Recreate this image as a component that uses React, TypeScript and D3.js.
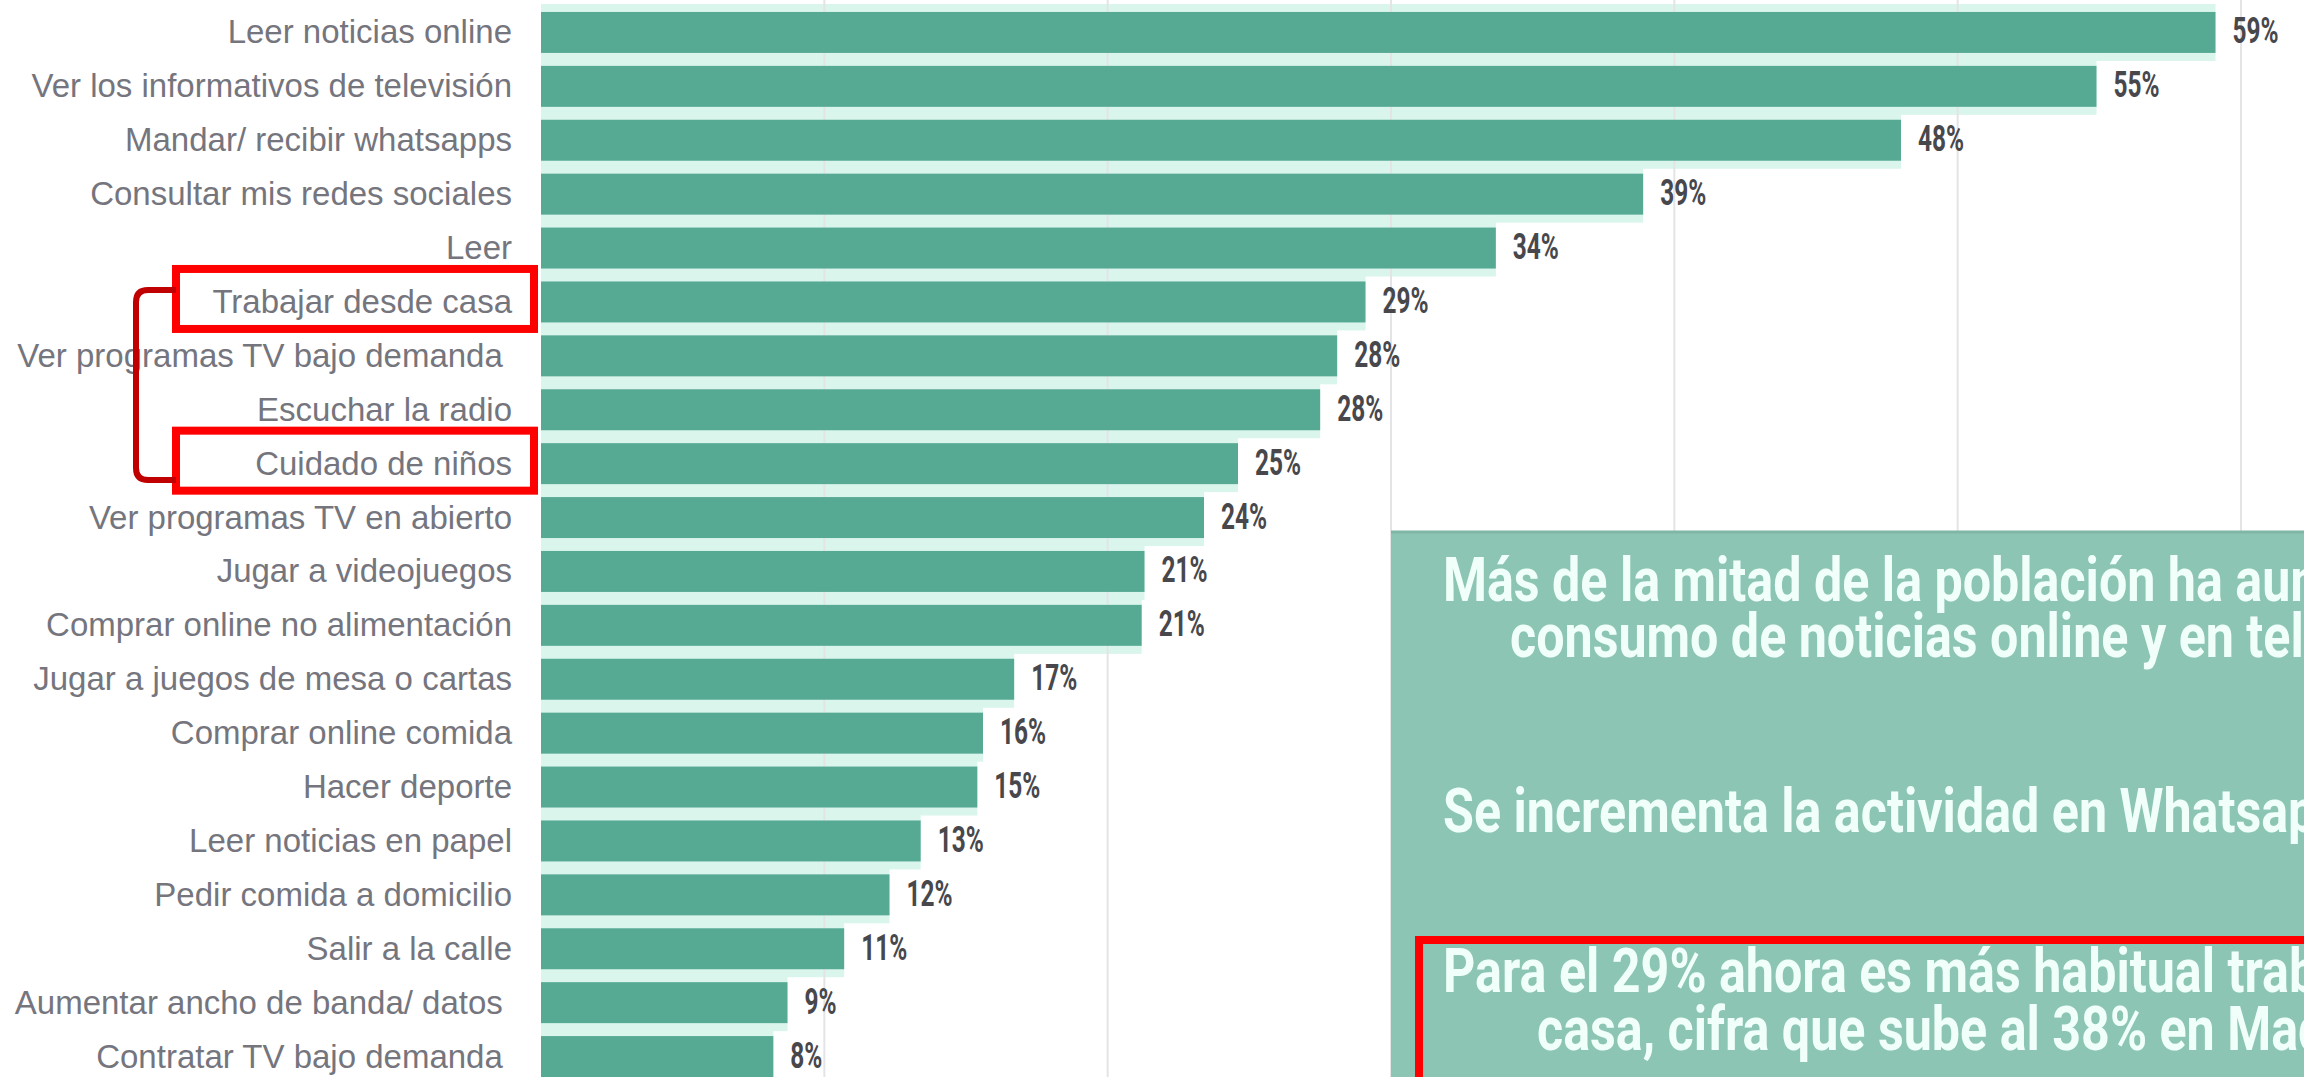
import React from 'react';
import * as d3 from 'd3';

// actividades (orden del gráfico)
const categories = [
  'Leer noticias online',
  'Ver los informativos de televisión',
  'Mandar/ recibir whatsapps',
  'Consultar mis redes sociales',
  'Leer',
  'Trabajar desde casa',
  'Ver programas TV bajo demanda ',
  'Escuchar la radio',
  'Cuidado de niños',
  'Ver programas TV en abierto',
  'Jugar a videojuegos',
  'Comprar online no alimentación',
  'Jugar a juegos de mesa o cartas',
  'Comprar online comida',
  'Hacer deporte',
  'Leer noticias en papel',
  'Pedir comida a domicilio',
  'Salir a la calle',
  'Aumentar ancho de banda/ datos ',
  'Contratar TV bajo demanda ',
];

// longitud de las barras y etiqueta impresa
const values = [59.1, 54.9, 48.0, 38.9, 33.7, 29.1, 28.1, 27.5, 24.6, 23.4, 21.3, 21.2, 16.7, 15.6, 15.4, 13.4, 12.3, 10.7, 8.7, 8.2];
const valueLabels = ['59%', '55%', '48%', '39%', '34%', '29%', '28%', '28%', '25%', '24%', '21%', '21%', '17%', '16%', '15%', '13%', '12%', '11%', '9%', '8%'];

const gridTicks = [10, 20, 30, 40, 50, 60];
const highlighted = ['Trabajar desde casa', 'Cuidado de niños'];

const noteLines = [
  'Más de la mitad de la población ha aumentado su',
  'consumo de noticias online y en televisión',
  'Se incrementa la actividad en Whatsapp y redes sociales',
  'Para el 29% ahora es más habitual trabajar desde',
  'casa, cifra que sube al 38% en Madrid',
];

const W = 2304;
const H = 1077;

export default function App() {
  const x = d3.scaleLinear().domain([0, 60]).range([541, 2241]);
  const y = d3
    .scaleBand<string>()
    .domain(categories)
    .range([5.5, 5.5 + 20 * 53.9])
    .paddingInner(0.24)
    .paddingOuter(0.12);
  const bw = y.bandwidth();

  const boxY = (name: string) => y(name) as number;

  return (
    <div style={{ position: 'absolute', left: 0, top: 0 }}>
      <svg width={W} height={H} style={{ display: 'block', background: '#fff' }}>
        {/* halo claro alrededor de las barras */}
        {values.map((v, i) => (
          <rect
            key={'h' + i}
            x={x(0)}
            y={(y(categories[i]) as number) - 8}
            width={x(v) - x(0)}
            height={bw + 16}
            fill="#d9f5ec"
          />
        ))}

        {gridTicks.map((t) => (
          <line key={'g' + t} x1={x(t)} x2={x(t)} y1={0} y2={H} stroke="#e4e4e6" strokeWidth={2} />
        ))}

        {values.map((v, i) => (
          <rect
            key={'b' + i}
            x={x(0)}
            y={y(categories[i])}
            width={x(v) - x(0)}
            height={bw}
            fill="#56a993"
          />
        ))}

        {categories.map((c) => (
          <text
            key={'l' + c}
            x={512}
            y={(y(c) as number) + bw / 2 + 11}
            textAnchor="end"
            fontFamily="'Liberation Sans', Arial, sans-serif"
            fontSize={33}
            fill="#75757e"
            style={{ whiteSpace: 'pre' }}
          >
            {c}
          </text>
        ))}

        {values.map((v, i) => {
          const tx = x(v) + 17;
          const ty = (y(categories[i]) as number) + bw / 2 + 11;
          return (
            <text
              key={'v' + i}
              transform={`translate(${tx},${ty}) scale(0.66,1)`}
              fontFamily="Roboto, 'Liberation Sans', sans-serif"
              fontWeight={700}
              fontSize={37}
              fill="#48484c"
            >
              {valueLabels[i]}
            </text>
          );
        })}

        {/* recuadros rojos */}
        {highlighted.map((c) => (
          <rect
            key={'r' + c}
            x={176}
            y={boxY(c) - 12.5}
            width={358}
            height={60}
            fill="none"
            stroke="#ff0000"
            strokeWidth={8}
          />
        ))}
        <path
          d={`M176,290 H148 Q136,290 136,302 V468 Q136,480 148,480 H176`}
          fill="none"
          stroke="#c00000"
          strokeWidth={6}
        />

        {/* cuadro de texto */}
        <rect x={1391} y={531} width={W - 1391} height={H - 531} fill="#8cc5b4" />
        <line x1={1391} x2={W} y1={532} y2={532} stroke="#80b6a6" strokeWidth={3} />
        {noteLines.map((t, i) => {
          const pos = [
            [1443, 601],
            [1510, 657],
            [1443, 832],
            [1443, 992],
            [1537, 1050],
          ][i];
          return (
            <text
              key={'n' + i}
              transform={`translate(${pos[0]},${pos[1]}) scale(0.81,1)`}
              fontFamily="Roboto, 'Liberation Sans', sans-serif"
              fontWeight={700}
              fontSize={62}
              fill="#f0fffa"
            >
              {t}
            </text>
          );
        })}
        <rect x={1419} y={940} width={W} height={H} fill="none" stroke="#ff0000" strokeWidth={8} />
      </svg>
    </div>
  );
}
